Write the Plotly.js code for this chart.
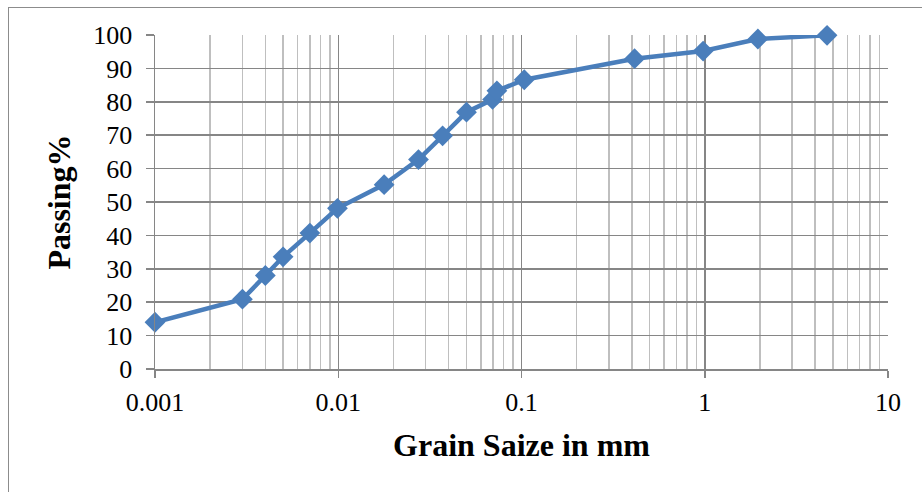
<!DOCTYPE html>
<html><head><meta charset="utf-8">
<script src="https://cdn.plot.ly/plotly-3.0.1.min.js"></script>
<style>
html,body{margin:0;padding:0;background:#fff;overflow:hidden;}
#wrap{position:relative;width:922px;height:492px;overflow:hidden;}
#frame{position:absolute;left:8px;top:7px;width:940px;height:520px;border:1px solid #8c8c8c;box-sizing:border-box;pointer-events:none;}
#chart{position:absolute;left:0;top:0;width:922px;height:492px;}
</style></head>
<body>
<div id="wrap"><div id="chart"></div><div id="frame"></div></div>
<script>
const grainSize = [0.001, 0.003, 0.004, 0.005, 0.007, 0.0099, 0.0178, 0.0274, 0.0371, 0.0501, 0.0695, 0.0734, 0.1035, 0.414, 0.98, 1.95, 4.65];
const passing   = [14.0, 20.9, 28.0, 33.6, 40.7, 48.1, 55.2, 62.7, 69.8, 76.9, 80.7, 83.3, 86.6, 92.9, 95.2, 98.8, 99.9];
const xTickVals = [0.001, 0.01, 0.1, 1, 10];
const xTickText = ['0.001', '0.01', '0.1', '1', '10'];

const font = "Liberation Serif";
const trace = {
  x: grainSize, y: passing, type: 'scatter', mode: 'lines+markers',
  line: {color: '#4a7ebb', width: 4.5},
  marker: {symbol: 'diamond', size: 16, color: '#4a7ebb'},
  cliponaxis: false, hoverinfo: 'skip'
};
const layout = {
  width: 922, height: 492,
  margin: {l: 155, r: 34, t: 35, b: 123},
  paper_bgcolor: '#fff', plot_bgcolor: '#fff',
  showlegend: false,
  font: {family: font, color: '#000', size: 26},
  xaxis: {
    type: 'log', range: [-3, 1],
    tickmode: 'array', tickvals: xTickVals, ticktext: xTickText,
    showgrid: true, gridcolor: '#868686', gridwidth: 1.5,
    showline: true, linecolor: '#868686', linewidth: 1.5,
    ticks: 'outside', ticklen: 7, tickcolor: '#868686', tickwidth: 1.5,
    ticklabelstandoff: 2,
    minor: {dtick: 'D1', showgrid: true, gridcolor: '#bfbfbf', gridwidth: 1.5, ticks: ''},
    tickfont: {family: font, size: 26, color: '#000'},
    zeroline: false,
    title: {text: '<b>Grain Saize in mm</b>', font: {family: font, size: 32}, standoff: 18}
  },
  yaxis: {
    range: [0, 100], dtick: 10, tick0: 0,
    showgrid: true, gridcolor: '#868686', gridwidth: 1.5,
    showline: true, linecolor: '#868686', linewidth: 1.5,
    ticks: 'outside', ticklen: 8, tickcolor: '#868686', tickwidth: 1.5,
    ticklabelstandoff: 8,
    tickfont: {family: font, size: 26, color: '#000'},
    zeroline: false,
    title: {text: '<b>Passing%</b>', font: {family: font, size: 32}, standoff: 13}
  }
};
Plotly.newPlot('chart', [trace], layout, {displayModeBar: false, staticPlot: true});
</script>
</body></html>
